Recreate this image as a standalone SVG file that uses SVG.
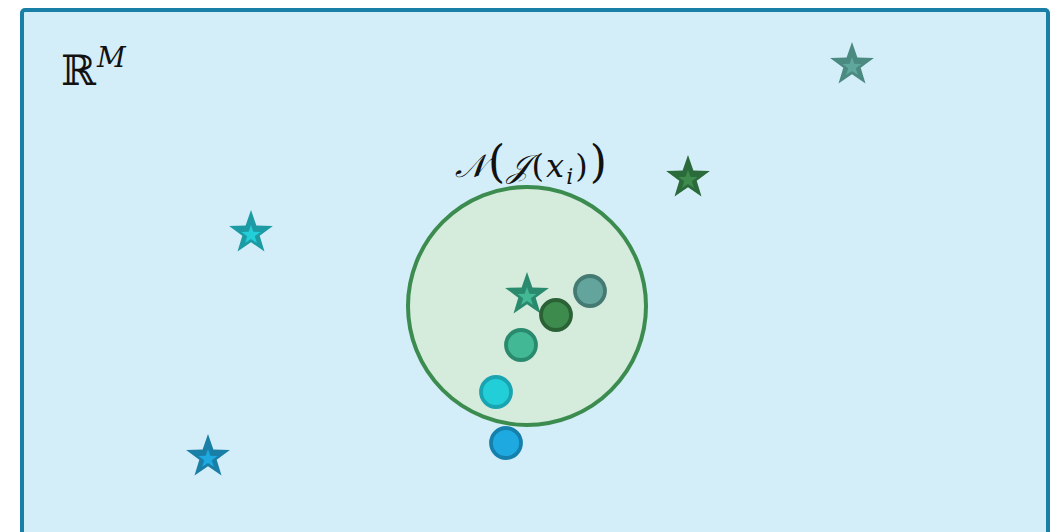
<svg xmlns="http://www.w3.org/2000/svg" width="1058" height="532" viewBox="0 0 1058 532">
<style>
.lbl{font-family:"DejaVu Serif","Liberation Serif",serif;fill:#111;}
.pt{stroke-width:3.8;}
</style>
<defs>
<polygon id="star" points="0,-23 5.4,-7.4 21.9,-7.1 8.7,2.8 13.5,18.6 0,9.2 -13.5,18.6 -8.7,2.8 -21.9,-7.1 -5.4,-7.4"/>
<polygon id="istar" points="0,-10 2.35,-3.2 9.5,-3.1 3.8,1.2 5.9,8.1 0,4 -5.9,8.1 -3.8,1.2 -9.5,-3.1 -2.35,-3.2"/>
</defs>
<g id="space">
<rect x="22" y="10" width="1026" height="540" rx="3" fill="#d4eef9" stroke="#1a7fa6" stroke-width="4"/>
<text class="lbl" x="61" y="85" font-size="42">ℝ</text>
<text class="lbl" x="97" y="67" font-size="28" font-style="italic">M</text>
</g>
<g id="neighborhood">
<circle cx="527" cy="306" r="119" fill="#d5ebdc" stroke="#3c8c50" stroke-width="4"/>
<text class="lbl" x="455" y="177" font-size="32" textLength="152" lengthAdjust="spacing"><tspan font-style="italic">𝒩</tspan><tspan font-size="44" font-weight="300">(</tspan><tspan font-style="italic">𝒥</tspan>(<tspan font-style="italic">x</tspan><tspan font-size="22" dy="7" font-style="italic">i</tspan><tspan dy="-7">)</tspan><tspan font-size="44">)</tspan></text>
</g>
<g id="star-graygreen"><use href="#star" x="852" y="65" fill="#4a8a80"/><use href="#istar" x="852" y="67" fill="#5fa69c"/></g>
<g id="star-darkgreen"><use href="#star" x="688" y="178" fill="#2b6a3a"/><use href="#istar" x="688" y="180" fill="#3d8b4d"/></g>
<g id="star-teal"><use href="#star" x="251" y="233" fill="#1d9ba4"/><use href="#istar" x="251" y="235" fill="#22ced8"/></g>
<g id="star-blue"><use href="#star" x="208" y="457" fill="#1a7fa6"/><use href="#istar" x="208" y="459" fill="#1fa9e1"/></g>
<g id="star-center"><use href="#star" x="527" y="295" fill="#2a8a6e"/><use href="#istar" x="527" y="297" fill="#43b894"/></g>
<g id="pt-graygreen"><circle class="pt" cx="590" cy="291" r="15" fill="#63a49c" stroke="#457a73"/></g>
<g id="pt-darkgreen"><circle class="pt" cx="556" cy="315" r="15" fill="#3d8b4d" stroke="#2a6236"/></g>
<g id="pt-green"><circle class="pt" cx="521" cy="345" r="15" fill="#43b894" stroke="#2a8a6e"/></g>
<g id="pt-cyan"><circle class="pt" cx="496" cy="392" r="15" fill="#22ced8" stroke="#1aa3b0"/></g>
<g id="pt-blue"><circle class="pt" cx="506" cy="443" r="15" fill="#1fa9e1" stroke="#1680ad"/></g>
<g id="connectors"/>
</svg>
